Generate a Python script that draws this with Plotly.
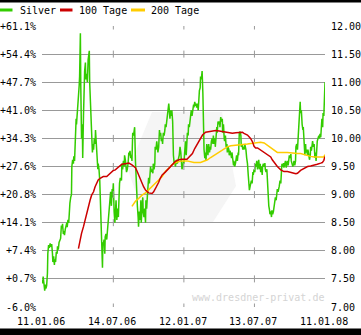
import pandas as pd
import plotly.graph_objects as go

START = "2006-01-11"

# ---- Silver price (day offset from 11.01.2006, price) ----
silver_days = [0,2,3,5,7,9,10,12,14,15,17,19,21,23,25,27,28,30,32,33,35,37,39,40,42,44,46,48,50,52,53,55,57,58,60,62,64,65,67,69,70,72,74,76,77,79,81,82,84,86,88,89,91,93,95,96,97,99,100,101,102,104,105,107,108,110,112,113,115,117,119,120,122,123,125,126,128,130,132,133,135,137,138,140,142,144,145,147,149,150,152,154,156,157,158,160,162,163,165,167,168,170,172,174,175,177,179,181,182,184,186,188,
191,193,195,197,200,202,205,206,208,210,212,213,215,217,218,220,222,224,225,227,229,231,232,234,236,237,239,241,243,244,246,248,249,251,253,255,256,258,260,261,263,265,267,268,270,272,274,275,277,279,280,282,284,286,287,289,291,292,294,296,298,299,301,303,304,306,308,310,311,313,315,317,318,320,322,323,325,327,329,330,332,334,335,337,339,341,342,344,346,347,349,351,353,354,356,358,360,361,363,365,366,368,370,
372,373,375,377,378,380,382,384,385,387,389,391,392,394,396,397,399,401,403,404,406,408,409,411,413,415,416,418,420,422,423,425,427,428,430,432,434,435,437,439,441,442,444,446,447,449,451,452,454,456,458,459,461,463,465,466,468,470,471,473,475,477,478,480,482,483,485,487,489,490,492,494,495,497,499,501,502,504,506,507,509,511,513,514,516,518,520,521,523,525,526,528,530,532,533,535,537,538,540,542,544,545,547,549,550,552,554,
556,557,559,561,563,564,566,568,569,571,573,575,576,578,580,581,583,585,587,588,590,592,593,595,597,599,600,602,604,606,607,609,611,612,614,616,618,619,621,623,624,626,628,630,631,633,635,636,638,640,642,643,645,647,649,650,652,654,655,657,659,661,662,664,666,667,669,671,673,674,676,678,680,681,683,685,686,688,690,692,693,695,697,698,700,702,704,705,707,709,710,712,714,716,717,719,721,722,724,725,727,728,729,730]
silver = [7.48,7.42,7.54,7.36,7.29,7.40,7.33,7.38,7.60,7.95,8.10,8.05,8.13,8.07,8.12,7.95,7.80,7.90,7.75,7.85,7.80,7.98,7.95,8.08,8.02,8.15,8.20,8.22,8.45,8.40,8.48,8.30,8.35,8.28,8.38,8.45,8.50,8.42,8.55,8.50,8.65,8.85,8.95,9.00,9.50,9.62,9.55,9.68,9.60,10.05,10.35,10.25,10.45,10.60,10.70,10.95,11.10,11.87,10.95,10.50,10.00,10.25,9.65,10.40,10.85,11.20,11.35,11.05,11.15,11.00,11.40,11.50,11.56,11.00,10.70,10.45,10.15,9.75,9.90,9.80,10.00,9.90,10.15,9.85,9.60,9.45,9.55,9.45,9.25,9.00,8.85,8.25,7.70,8.15,8.10,8.20,7.95,8.25,8.30,8.20,8.30,8.50,8.70,8.90,8.85,9.05,8.80,9.10,8.95,9.20,8.70,8.50,
8.90,8.55,8.75,8.60,9.20,9.30,9.25,9.55,9.45,9.60,9.50,9.70,9.62,9.50,9.40,9.45,9.55,9.75,9.70,9.78,9.65,9.70,9.60,10.10,10.05,10.10,10.20,9.60,9.20,9.30,8.80,8.60,8.43,8.70,8.55,8.90,8.50,8.75,8.95,8.70,8.60,8.75,8.50,8.90,8.75,9.00,9.20,9.30,9.20,9.35,9.50,9.40,9.45,9.38,9.55,9.45,9.55,9.85,9.80,9.95,9.85,9.75,9.85,10.15,10.05,10.10,9.95,10.00,9.90,10.10,10.05,10.15,10.25,10.20,10.35,10.45,10.50,10.62,10.45,10.35,10.50,10.40,10.50,10.30,9.70,9.55,9.60,9.50,9.55,9.62,9.55,9.60,9.65,9.70,9.85,9.75,9.55,9.45,9.50,9.60,9.55,9.80,9.95,
9.70,9.85,10.10,10.05,10.25,10.20,10.30,10.45,10.50,10.40,10.50,10.60,10.55,10.65,10.58,10.62,10.55,10.62,10.50,10.75,10.85,10.90,11.10,11.05,11.20,10.80,10.20,9.80,9.65,9.75,9.60,9.90,9.80,9.70,9.90,9.75,9.85,9.80,9.95,10.00,9.90,10.05,9.90,10.00,9.85,10.15,10.20,10.10,10.30,10.25,10.30,10.20,10.38,10.30,10.35,10.10,10.25,10.00,9.95,10.05,9.85,9.90,9.75,9.85,9.80,9.70,9.78,9.72,9.65,9.75,9.60,9.52,9.60,9.50,9.55,9.62,9.70,9.60,9.75,9.70,10.10,10.12,10.05,9.85,9.90,9.80,9.85,9.80,9.90,9.85,9.80,9.65,9.55,9.35,9.20,9.08,9.15,9.20,9.25,9.20,9.40,9.35,9.45,9.40,9.55,9.50,9.60,
9.45,9.50,9.62,9.45,9.55,9.40,9.50,9.35,9.50,9.55,9.50,9.56,9.45,9.40,9.45,9.30,8.85,8.80,8.72,8.65,8.70,8.60,8.72,8.65,8.70,8.78,8.85,8.95,8.90,9.00,9.10,9.05,9.10,9.15,9.25,9.20,9.45,9.55,9.50,9.56,9.48,9.55,9.60,9.48,9.55,9.60,9.52,9.58,9.70,9.65,9.72,9.60,9.55,9.50,9.55,9.60,9.52,9.60,9.85,9.90,9.80,10.05,10.00,10.30,10.65,10.45,10.50,10.25,10.15,10.20,10.00,9.70,9.90,9.75,9.80,9.70,9.80,9.65,9.62,9.70,9.85,9.78,9.90,9.95,9.85,9.90,9.65,9.75,9.60,9.90,9.95,10.00,10.05,10.00,10.08,10.02,10.25,10.35,10.20,10.45,10.40,10.50,10.80,11.00]

# ---- 100-day average ----
ma100_days = [94,98,102,107,111,115,120,124,128,133,137,141,145,150,158,167,171,175,184,189,198,206,215,224,232,241,245,249,254,258,262,267,271,275,284,288,292,297,301,305,310,318,327,335,344,353,361,374,379,388,394,401,408,414,422,435,448,457,465,474,482,491,500,508,517,521,530,538,543,547,551,556,564,573,581,590,594,599,603,607,616,624,633,642,650,655,659,667,676,685,693,702,710,719,723,727,730]
ma100 = [8.04,8.19,8.31,8.43,8.55,8.64,8.79,8.90,8.99,9.05,9.14,9.20,9.26,9.29,9.32,9.32,9.35,9.38,9.43,9.44,9.50,9.54,9.55,9.56,9.53,9.48,9.42,9.35,9.26,9.20,9.14,9.08,9.05,9.03,9.02,9.05,9.10,9.16,9.22,9.29,9.35,9.40,9.47,9.54,9.59,9.62,9.63,9.63,9.67,9.73,9.82,9.91,10.00,10.06,10.11,10.13,10.14,10.13,10.12,10.10,10.09,10.09,10.10,10.11,10.11,10.09,10.06,10.00,9.94,9.86,9.83,9.83,9.79,9.75,9.71,9.67,9.62,9.57,9.53,9.50,9.44,9.41,9.41,9.40,9.38,9.37,9.38,9.43,9.47,9.50,9.51,9.52,9.54,9.56,9.57,9.61,9.68]

# ---- 200-day average ----
ma200_days = [232,241,249,258,267,275,284,292,301,310,318,327,335,344,353,361,374,384,392,409,418,427,435,444,452,461,470,478,487,513,521,530,538,547,556,564,573,581,590,599,607,633,642,659,667,676,685,693,702,727,730]
ma200 = [8.79,8.88,8.93,8.99,9.03,9.08,9.14,9.20,9.26,9.32,9.41,9.47,9.53,9.57,9.59,9.60,9.60,9.58,9.57,9.57,9.59,9.62,9.66,9.70,9.75,9.79,9.82,9.85,9.87,9.88,9.89,9.90,9.91,9.92,9.93,9.93,9.92,9.88,9.82,9.78,9.75,9.75,9.74,9.73,9.73,9.71,9.69,9.68,9.67,9.67,9.71]

# ---- axis ticks ----
x_tick_dates = ["2006-01-11", "2006-07-14", "2007-01-12", "2007-07-13", "2008-01-11"]
x_tick_text = ["11.01.06", "14.07.06", "12.01.07", "13.07.07", "11.01.08"]
y_ticks = [7.0, 7.5, 8.0, 8.5, 9.0, 9.5, 10.0, 10.5, 11.0, 11.5, 12.0]
y_tick_text = ["7.00", "7.50", "8.00", "8.50", "9.00", "9.50", "10.00", "10.50", "11.00", "11.50", "12.00"]
pct_tick_text = ["-6.0%", "+0.7%", "+7.4%", "+14.1%", "+20.8%", "+27.6%", "+34.3%", "+41.0%", "+47.7%", "+54.4%", "+61.1%"]

legend_names = ["Silver", "100 Tage", "200 Tage"]
colors = ["#33cc00", "#cc0000", "#ffcc00"]


def to_dates(days):
    return pd.Timestamp(START) + pd.to_timedelta(days, unit="D")


W, H = 361, 335
L, R, T, B = 42, 36, 26, 28
PW, PH = W - L - R, H - T - B


def px(x):
    return (x - L) / PW


def py(y):
    return (H - B - y) / PH


FONT = "DejaVu Sans Mono"
fig = go.Figure()

# cross tick marks on every horizontal gridline
inner = x_tick_dates[1:-1]
fig.add_trace(go.Scatter(
    x=[d for d in inner for _ in y_ticks], y=[v for _ in inner for v in y_ticks],
    mode="markers", yaxis="y2", hoverinfo="skip", showlegend=False,
    marker=dict(symbol="line-ns", size=5, line=dict(color="#999999", width=1)),
))

fig.add_trace(go.Scatter(x=to_dates(silver_days), y=silver, mode="lines",
                         line=dict(color=colors[0], width=1.5), name=legend_names[0], showlegend=False))
fig.add_trace(go.Scatter(x=to_dates(ma200_days), y=ma200, mode="lines",
                         line=dict(color=colors[2], width=1.5), name=legend_names[2], showlegend=False))
fig.add_trace(go.Scatter(x=to_dates(ma100_days), y=ma100, mode="lines",
                         line=dict(color=colors[1], width=1.5), name=legend_names[1], showlegend=False))

shapes = []
# watermark logo (very light)
pts = [(152, 112), (222, 112), (236, 186), (213, 222), (146, 222), (128, 170)]
path = "M " + " L ".join(f"{px(a):.4f},{py(b):.4f}" for a, b in pts) + " Z"
shapes.append(dict(type="path", xref="paper", yref="paper", path=path,
                   fillcolor="#f5f5f5", line=dict(width=0), layer="below"))
# black bars top and bottom
shapes.append(dict(type="rect", xref="paper", yref="paper", x0=px(0), x1=px(W), y0=py(0), y1=py(2.5),
                   fillcolor="black", line=dict(width=0)))
shapes.append(dict(type="rect", xref="paper", yref="paper", x0=px(0), x1=px(W), y0=py(328.5), y1=py(H),
                   fillcolor="black", line=dict(width=0)))

annotations = []
leg_x = [(0, 12.5, 18), (60, 72.5, 77), (131, 145, 149)]
for (a, b, t), name, c in zip(leg_x, legend_names, colors):
    shapes.append(dict(type="rect", xref="paper", yref="paper", x0=px(a), x1=px(b), y0=py(11.5), y1=py(8.5),
                       fillcolor=c, line=dict(width=0)))
    annotations.append(dict(text=name, xref="paper", yref="paper", x=px(t), y=py(10.3),
                            xanchor="left", yanchor="middle", showarrow=False,
                            font=dict(family=FONT, size=10, color="black")))
annotations.append(dict(text="www.dresdner-privat.de", xref="paper", yref="paper", x=px(325.5), y=py(297.5),
                        xanchor="right", yanchor="middle", showarrow=False,
                        font=dict(family=FONT, size=10, color="#d4d4d4")))
# x tick labels: left edge of each label sits ~27 px left of its tick
for d, t in zip(x_tick_dates, x_tick_text):
    annotations.append(dict(text=t, xref="x", yref="paper", x=d, y=py(321.5), xshift=-27,
                            xanchor="left", yanchor="middle", showarrow=False,
                            font=dict(family=FONT, size=10, color="black")))

fig.update_layout(
    template="none",
    width=W, height=H, margin=dict(l=L, r=R, t=T, b=B, pad=0, autoexpand=False),
    paper_bgcolor="white", plot_bgcolor="rgba(0,0,0,0)",
    font=dict(family=FONT, size=10, color="black"),
    showlegend=False, shapes=shapes, annotations=annotations,
    xaxis=dict(type="date", range=[x_tick_dates[0], x_tick_dates[-1]], showticklabels=False,
               showgrid=False, zeroline=False, showline=False, ticks="", fixedrange=True,
               automargin=False),
    yaxis=dict(range=[7, 12], side="right", tickvals=y_ticks, ticktext=y_tick_text,
               showgrid=True, gridcolor="#999999", gridwidth=1, zeroline=False, showline=False,
               ticks="", ticklabelstandoff=5, automargin=False),
    yaxis2=dict(range=[7, 12], side="left", overlaying="y", tickvals=y_ticks, ticktext=pct_tick_text,
                showgrid=False, zeroline=False, showline=False, ticks="", ticklabelstandoff=5,
                automargin=False),
)

fig.write_html("out.html")
